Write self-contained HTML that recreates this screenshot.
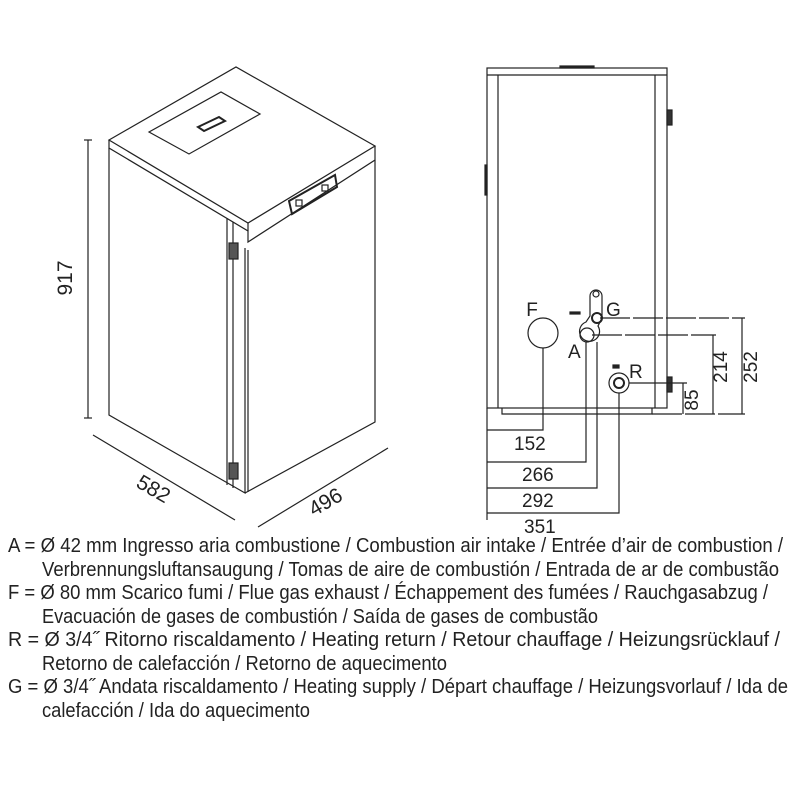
<!DOCTYPE html>
<html><head><meta charset="utf-8"><style>body{margin:0;background:#fff}svg{display:block}</style></head><body>
<svg width="800" height="800" viewBox="0 0 800 800" xmlns="http://www.w3.org/2000/svg" font-family="'Liberation Sans', sans-serif">
<g fill="none" stroke="#222" stroke-width="1.2">
<!-- isometric -->
<polygon points="109,140 236,67 375,146 248,223" fill="#fff"/>
<polyline points="109,140 109,148 248,231 248,242 375,160 375,146"/>
<polyline points="248,223 248,231"/>
<polygon points="149,132 221,92 260,114 189,154"/>
<polygon points="198,127 219,117 225,121 204,131" stroke-width="2"/>
<polyline points="109,148 109,415 245,493 245,248"/>
<polyline points="245,493 375,422 375,160"/>
<line x1="227" y1="218" x2="227" y2="485"/>
<line x1="233" y1="222" x2="233" y2="488"/>
<line x1="248" y1="250" x2="248" y2="492"/>
<rect x="229" y="243" width="9" height="16" fill="#555"/>
<rect x="229" y="463" width="9" height="16" fill="#555"/>
<polygon points="289,201 335,175 337,187 292,214" stroke-width="2"/>
<rect x="296" y="200" width="6" height="6"/><rect x="322" y="185" width="6" height="6"/>
<!-- 917 -->
<line x1="88" y1="140" x2="88" y2="418"/>
<line x1="84" y1="140" x2="92" y2="140"/><line x1="84" y1="418" x2="92" y2="418"/>
<line x1="93" y1="435" x2="235" y2="520"/>
<line x1="258" y1="527" x2="388" y2="448"/>
<!-- right view -->
<rect x="487" y="68" width="180" height="340"/>
<line x1="487" y1="75" x2="667" y2="75"/>
<line x1="498" y1="75" x2="498" y2="408"/>
<line x1="655" y1="75" x2="655" y2="408"/>
<rect x="560" y="66" width="34" height="2" fill="#222"/>
<rect x="485" y="165" width="2" height="30" fill="#222"/>
<rect x="667" y="110" width="5" height="15" fill="#333"/>
<rect x="667" y="377" width="5" height="15" fill="#333"/>
<polyline points="502,408 502,414 652,414 652,408"/>
<circle cx="543" cy="333" r="15"/>
<path d="M590,296 a6,6 0 0 1 12,0 v22 l-4,8 a10,10 0 1 1 -12,-4 l4,-6 z"/>
<circle cx="596" cy="294" r="3"/>
<circle cx="587" cy="335" r="7"/>
<circle cx="597" cy="318" r="5" stroke-width="2"/>
<circle cx="619" cy="383" r="10"/>
<circle cx="619" cy="383" r="5" stroke-width="2"/>
<rect x="570" y="312" width="10" height="2" fill="#222"/>
<rect x="613" y="365" width="6" height="3" fill="#222"/>
<!-- dims -->
<line x1="600" y1="318" x2="745" y2="318" stroke-dasharray="30,3"/>
<line x1="742" y1="318" x2="742" y2="414"/>
<line x1="592" y1="335" x2="716" y2="335" stroke-dasharray="30,3"/>
<line x1="713" y1="335" x2="713" y2="414"/>
<line x1="629" y1="383" x2="687" y2="383"/>
<line x1="683" y1="383" x2="683" y2="414"/>
<line x1="652" y1="414" x2="745" y2="414" stroke-dasharray="30,3"/>
<line x1="487" y1="408" x2="487" y2="520"/>
<polyline points="543,348 543,430 487,430"/>
<polyline points="586,342 586,462 487,462"/>
<polyline points="597,342 597,488 487,488"/>
<polyline points="619,393 619,513 487,513"/>
</g>
<g fill="#222" font-size="21">
<text x="72" y="278" transform="rotate(-90 72 278)" text-anchor="middle">917</text>
<text x="150" y="495" transform="rotate(30 150 495)" text-anchor="middle">582</text>
<text x="329" y="508" transform="rotate(-30 329 508)" text-anchor="middle">496</text>
<text x="532" y="316" text-anchor="middle" font-size="19">F</text>
<text x="606" y="316" font-size="19">G</text>
<text x="568" y="358" font-size="19">A</text>
<text x="629" y="378" font-size="19">R</text>
<text x="727" y="367" transform="rotate(-90 727 367)" text-anchor="middle" font-size="19">214</text>
<text x="757" y="367" transform="rotate(-90 757 367)" text-anchor="middle" font-size="19">252</text>
<text x="698" y="400" transform="rotate(-90 698 400)" text-anchor="middle" font-size="19">85</text>
<text x="514" y="450" font-size="19">152</text>
<text x="522" y="481" font-size="19">266</text>
<text x="522" y="507" font-size="19">292</text>
<text x="524" y="533" font-size="19">351</text>
</g>
<g fill="#222" font-size="20" font-family="'Liberation Sans Narrow','Liberation Sans',sans-serif">
<text x="8" y="552" textLength="775" lengthAdjust="spacingAndGlyphs">A = Ø 42 mm Ingresso aria combustione / Combustion air intake / Entrée d’air de combustion /</text>
<text x="42" y="576" textLength="737" lengthAdjust="spacingAndGlyphs">Verbrennungsluftansaugung / Tomas de aire de combustión / Entrada de ar de combustão</text>
<text x="8" y="599" textLength="760" lengthAdjust="spacingAndGlyphs">F = Ø 80 mm Scarico fumi / Flue gas exhaust / Échappement des fumées / Rauchgasabzug /</text>
<text x="42" y="623" textLength="556" lengthAdjust="spacingAndGlyphs">Evacuación de gases de combustión / Saída de gases de combustão</text>
<text x="8" y="646" textLength="772" lengthAdjust="spacingAndGlyphs">R = Ø 3/4˝ Ritorno riscaldamento / Heating return / Retour chauffage / Heizungsrücklauf /</text>
<text x="42" y="670" textLength="405" lengthAdjust="spacingAndGlyphs">Retorno de calefacción / Retorno de aquecimento</text>
<text x="8" y="693" textLength="780" lengthAdjust="spacingAndGlyphs">G = Ø 3/4˝ Andata riscaldamento / Heating supply / Départ chauffage / Heizungsvorlauf / Ida de</text>
<text x="42" y="717" textLength="268" lengthAdjust="spacingAndGlyphs">calefacción / Ida do aquecimento</text>
</g>
</svg>
</body></html>
